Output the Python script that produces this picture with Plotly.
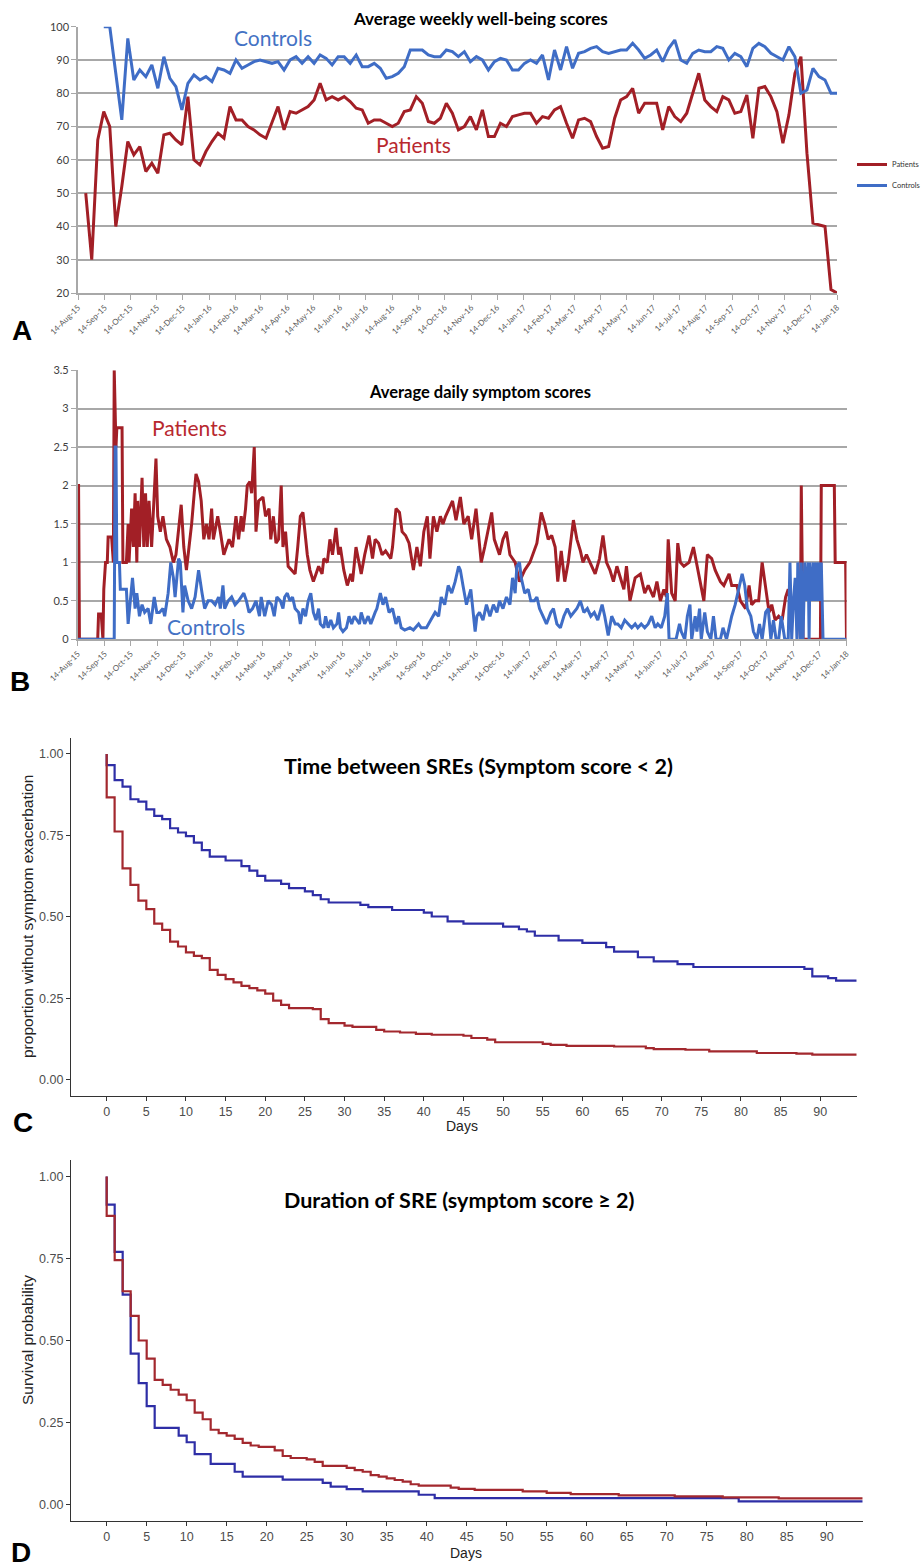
import plotly.graph_objects as go
import pandas as pd

W, H = 922, 1567
def fx(p): return p / W
def fy(p): return 1 - p / H

# ---------------- DATA ----------------
# Panel A: weekly well-being scores (weekly points)
a_patients_start = "2015-08-23"
a_patients = [50, 30, 66, 74.5, 70, 40, 52, 65.5, 61.5, 64,
              56.5, 59, 56, 67.5, 68, 66, 64.5, 79, 60, 58.5,
              62.5, 65.5, 68, 66.5, 76, 72, 72, 70, 69, 67.5,
              66.5, 71, 76, 69, 74.5, 74, 75, 76, 78, 83,
              78, 79, 78, 79, 77.5, 75.5, 75, 71, 72, 72,
              71, 70, 71, 74.5, 75, 79, 77, 71.5, 71, 72.5,
              77, 74, 69, 70, 73, 69, 75, 67, 67, 71,
              70, 73, 73.5, 74, 74, 71, 73, 72.5, 75, 76,
              71, 66.5, 72, 72.5, 71.5, 67, 63.5, 64, 72.5, 78,
              79, 81.5, 74, 77, 77, 77, 69, 76, 73, 71.5,
              74, 80, 86, 78, 76, 74.5, 79, 78, 74, 74.5,
              79.5, 66.5, 81.5, 82, 79, 74.5, 65, 73.5, 86, 91,
              62, 41, 40.5, 40, 21, 20]
a_controls_start = "2015-09-13"
a_controls = [100, 100, 86, 72, 96.5, 84, 87, 85, 88.5, 81.5,
              91, 84.5, 82, 75, 83, 85.5, 84, 85, 83.5, 87.5,
              87, 86, 90, 87.5, 88.5, 89.5, 90, 89.5, 89, 89.5,
              87, 90, 91, 89, 91, 89, 91.5, 90.5, 88.5, 91,
              91, 89, 91.5, 88, 88, 89, 87.5, 84.5, 85, 86,
              88, 93, 93, 93, 91.5, 91, 91, 93, 92.5, 91,
              92.5, 89.5, 91, 90, 87, 89.5, 90.5, 90, 87, 87,
              89, 90, 89, 91.5, 84, 93, 87, 94, 87.5, 92,
              92.5, 93.5, 94, 92.5, 92, 92.5, 93, 93, 95, 93,
              90.5, 91.5, 93, 89.5, 93.5, 96, 90, 89, 92, 93,
              92.5, 92.5, 94, 93.5, 90, 92, 91, 88, 93.5, 95,
              94, 92, 91, 90, 94, 91, 80, 81, 87.5, 85,
              84, 80, 80]

# Panel B: daily symptom scores, (day since 14-Aug-15, score)
b_origin = "2015-08-14"
b_patients = [(0,2.0),(1,2.0),(2,0),(23,0),(24,0.33),(27,0.33),(29,0),(30,0.65),(32,1.0),(34,1.0),
  (35,1.33),(39,1.33),(41,1.0),(42,3.5),(44,2.5),(45,2.75),(51,2.75),(52,1.0),(56,1.0),(58,1.5),
  (59,1.0),(62,1.7),(64,1.2),(66,1.9),(68,1.0),(69,1.8),(71,1.2),(74,2.1),(76,1.2),(78,1.9),
  (80,1.2),(82,1.8),(85,1.2),(87,1.7),(90,2.35),(92,1.6),(95,1.4),(98,1.6),(102,1.3),(106,1.2),
  (110,1.0),(113,1.1),(117,1.6),(119,1.75),(122,1.2),(125,0.9),(128,1.2),(131,1.5),(134,1.9),(136,2.15),
  (139,2.05),(142,1.8),(145,1.3),(148,1.5),(151,1.3),(154,1.7),(156,1.3),(159,1.5),(161,1.6),(164,1.4),
  (168,1.1),(171,1.2),(174,1.3),(178,1.2),(182,1.6),(185,1.3),(188,1.6),(190,1.4),(193,1.7),(195,2.0),
  (198,2.05),(200,1.9),(203,2.5),(205,1.4),(208,1.8),(213,1.85),(216,1.6),(220,1.7),(222,1.3),(225,1.6),
  (228,1.25),(231,1.3),(234,2.0),(236,1.2),(239,1.4),(242,0.95),(246,0.9),(250,0.85),(253,1.2),(256,1.6),
  (259,1.65),(261,1.4),(264,1.1),(267,0.9),(271,0.75),(274,0.85),(277,0.95),(281,0.85),(283,1.05),(287,1.0),
  (290,1.3),(293,1.1),(297,1.45),(300,1.1),(302,1.2),(306,0.9),(310,0.7),(314,0.85),(316,0.75),(320,1.2),
  (323,1.0),(326,0.85),(330,1.1),(335,1.35),(339,1.05),(342,1.3),(346,1.25),(350,1.1),(354,1.15),(360,1.05),
  (362,1.2),(366,1.7),(370,1.65),(373,1.4),(377,1.35),(381,1.25),(386,0.9),(390,1.2),(394,0.95),(398,1.4),
  (402,1.6),(405,1.05),(409,1.6),(413,1.4),(417,1.6),(420,1.5),(423,1.6),(431,1.8),(435,1.55),(440,1.85),
  (444,1.5),(449,1.6),(453,1.3),(458,1.7),(464,1.0),(468,1.2),(476,1.65),(479,1.3),(485,1.1),(489,1.3),
  (493,1.4),(497,1.1),(503,1.0),(508,0.75),(514,0.9),(520,1.0),(528,1.25),(533,1.65),(537,1.5),(541,1.3),
  (545,1.35),(549,1.2),(552,0.75),(556,1.15),(560,0.75),(564,1.0),(570,1.55),(574,1.3),(578,1.15),(581,1.0),
  (585,1.1),(591,0.95),(595,0.85),(600,1.05),(604,1.35),(608,1.0),(612,0.9),(616,0.75),(620,0.95),(624,0.8),
  (628,0.65),(631,0.95),(635,0.5),(641,0.8),(647,0.85),(652,0.6),(656,0.7),(662,0.55),(666,0.75),(670,0.5),
  (674,0.65),(677,0.55),(679,1.3),(683,0.6),(687,0.5),(690,1.25),(693,1.0),(697,0.95),(703,1.0),(708,1.2),
  (712,0.95),(716,0.7),(720,0.5),(724,1.1),(729,1.05),(733,0.9),(739,0.75),(743,0.7),(749,0.85),(752,0.7),
  (758,0.7),(762,0.5),(768,0.4),(772,0.7),(775,0.45),(779,0.5),(783,0.5),(787,1.0),(791,0.7),(795,0.35),
  (798,0.45),(802,0.25),(806,0.3),(810,0.25),(814,0.55),(817,0.65),(821,0.4),(825,0.6),(829,0.45),(831,0),
  (832,2.0),(834,0),(854,0),(855,2.0),(870,2.0),(871,1.0),(883,1.0),(884,0)]
b_controls = [(0,0),(42,0),(43,2.5),(44,2.5),(45,1.0),(48,1.0),(49,0.65),(56,0.65),(58,0.2),(63,0.8),
  (66,0.4),(68,0.6),(71,0.3),(74,0.45),(77,0.35),(81,0.4),(84,0.2),(88,0.55),(91,0.35),(94,0.35),
  (98,0.4),(100,0.3),(104,0.6),(107,1.0),(110,0.8),(112,0.55),(116,1.05),(118,1.0),(121,0.35),(123,0.7),
  (127,0.5),(131,0.4),(135,0.55),(139,0.9),(143,0.6),(146,0.4),(150,0.5),(154,0.5),(158,0.45),(162,0.55),
  (164,0.4),(167,0.7),(169,0.4),(173,0.5),(177,0.55),(181,0.45),(185,0.5),(188,0.55),(191,0.6),(194,0.5),
  (197,0.35),(201,0.4),(205,0.5),(209,0.3),(211,0.55),(215,0.3),(219,0.5),(223,0.45),(226,0.3),(229,0.55),
  (233,0.5),(236,0.4),(238,0.55),(241,0.6),(244,0.5),(247,0.55),(250,0.4),(254,0.35),(256,0.2),(259,0.4),
  (262,0.3),(265,0.5),(268,0.6),(271,0.35),(274,0.25),(277,0.4),(279,0.2),(283,0.15),(285,0.3),(288,0.15),
  (291,0.25),(294,0.15),(298,0.2),(300,0.35),(302,0.15),(305,0.1),(309,0.15),(312,0.3),(315,0.2),(318,0.3),
  (321,0.25),(324,0.2),(326,0.35),(330,0.2),(334,0.3),(337,0.2),(342,0.35),(344,0.4),(348,0.6),(351,0.45),
  (354,0.55),(358,0.35),(362,0.4),(366,0.2),(369,0.3),(372,0.15),(376,0.12),(382,0.15),(386,0.12),(392,0.2),
  (395,0.15),(401,0.15),(406,0.25),(411,0.35),(415,0.3),(418,0.55),(422,0.45),(426,0.7),(430,0.6),(434,0.75),
  (438,0.95),(440,0.9),(443,0.7),(447,0.45),(452,0.65),(455,0.35),(457,0.1),(459,0.3),(462,0.35),(466,0.25),
  (470,0.45),(474,0.3),(478,0.45),(482,0.35),(485,0.5),(489,0.4),(493,0.55),(497,0.45),(500,0.8),(503,0.6),
  (505,0.95),(508,1.0),(510,0.8),(514,0.6),(518,0.65),(521,0.5),(525,0.5),(528,0.55),(531,0.4),(535,0.3),
  (539,0.2),(544,0.35),(547,0.4),(551,0.2),(555,0.15),(559,0.3),(563,0.4),(567,0.3),(571,0.35),(574,0.4),
  (578,0.5),(582,0.35),(586,0.4),(590,0.3),(594,0.35),(598,0.25),(603,0.45),(606,0.3),(610,0.05),(614,0.3),
  (618,0.2),(621,0.2),(625,0.15),(629,0.25),(633,0.2),(637,0.15),(641,0.2),(644,0.15),(648,0.2),(652,0.15),
  (656,0.2),(660,0.3),(664,0.15),(667,0.2),(671,0.15),(675,0.3),(678,0.6),(680,0),(688,0),(692,0.2),
  (694,0.1),(698,0),(701,0.3),(704,0.45),(706,0),(710,0.3),(712,0.1),(715,0.4),(717,0),(721,0.35),
  (724,0.1),(728,0),(731,0.3),(734,0),(739,0),(742,0.15),(746,0),(752,0.3),(756,0.45),(761,0.7),
  (764,0.85),(767,0.7),(770,0.4),(774,0.3),(777,0.1),(781,0),(784,0.2),(787,0),(791,0.35),(794,0.4),
  (797,0),(800,0.25),(803,0),(806,0),(809,0.3),(813,0),(817,0),(819,1.0),(821,0),(823,0.5),
  (825,0.8),(827,0),(828,1.0),(831,0),(832,1.0),(834,0),(836,1.0),(838,0.5),(840,1.0),(841,0),
  (842,1.0),(844,0.5),(846,1.0),(847,0.5),(849,1.0),(850,0.5),(852,1.0),(853,0.5),(855,1.0),(857,0),
  (884,0)]

# Panel C: Kaplan-Meier, time between SREs (event day, survival after event)
c_ctrl_t = [0,1,2,3,4,5,6,7,8,9,10,11,12,13,15,17,18,19,20,22,23,25,26,27,28,32,33,36,40,41,43,45,50,52,53,54,57,60,63,64,67,69,72,74,88,89,91,92]
c_ctrl_s = [0.966,0.92,0.90,0.861,0.854,0.83,0.81,0.80,0.772,0.759,0.748,0.728,0.705,0.685,0.673,0.656,0.642,0.626,0.611,0.601,0.588,0.578,0.567,0.554,0.544,0.537,0.53,0.521,0.513,0.501,0.486,0.479,0.47,0.462,0.455,0.442,0.428,0.42,0.407,0.393,0.376,0.363,0.355,0.346,0.34,0.317,0.312,0.304]
c_pat_t = [0,1,2,3,4,5,6,7,8,9,10,11,12,13,14,15,16,17,18,19,20,21,22,23,26,27,28,30,31,34,35,37,39,41,45,46,48,49,55,56,58,64,68,69,73,76,82,87,89]
c_pat_s = [0.867,0.762,0.649,0.598,0.55,0.524,0.479,0.46,0.424,0.409,0.391,0.38,0.373,0.337,0.322,0.309,0.299,0.288,0.281,0.274,0.264,0.243,0.23,0.22,0.217,0.186,0.174,0.166,0.162,0.153,0.148,0.145,0.141,0.138,0.135,0.128,0.123,0.115,0.11,0.107,0.104,0.102,0.097,0.094,0.092,0.087,0.082,0.08,0.077]
c_end = 94.6

# Panel D: Kaplan-Meier, duration of SRE
d_ctrl_t = [0,1,2,3,4,5,6,9,10,11,13,16,17,22,27,28,30,32,39,41,79]
d_ctrl_s = [0.914,0.77,0.64,0.46,0.37,0.30,0.234,0.21,0.19,0.154,0.124,0.1,0.085,0.076,0.066,0.055,0.047,0.04,0.03,0.02,0.01]
d_pat_t = [0,1,2,3,4,5,6,7,8,9,10,11,12,13,14,15,16,17,18,19,21,22,23,25,26,27,30,31,32,33,34,35,36,37,38,39,43,44,46,52,55,58,64,71,77,84]
d_pat_s = [0.88,0.745,0.65,0.575,0.5,0.445,0.38,0.365,0.35,0.335,0.318,0.28,0.26,0.228,0.218,0.21,0.2,0.188,0.18,0.176,0.165,0.148,0.142,0.138,0.13,0.118,0.112,0.105,0.1,0.09,0.085,0.08,0.075,0.07,0.062,0.058,0.052,0.048,0.045,0.04,0.036,0.032,0.028,0.025,0.022,0.019]
d_end = 94.5

month_ticks = [pd.Timestamp("2015-08-14") + pd.DateOffset(months=i) for i in range(30)]
month_labels = [d.strftime("%d-%b-%y") for d in month_ticks]
km_ticks = list(range(0, 95, 5))
km_yticks = [0, 0.25, 0.5, 0.75, 1.0]

# ---------------- STYLE ----------------
RED_A, BLUE_A = "#A21F26", "#3F6DC6"
RED_KM, BLUE_KM = "#A3282E", "#2E2EA6"
GRID = "#a8a8a8"

fig = go.Figure()

# Panel A
a_pat_x = pd.date_range(a_patients_start, periods=len(a_patients), freq="7D")
a_ctl_x = pd.date_range(a_controls_start, periods=len(a_controls), freq="7D")
fig.add_trace(go.Scatter(x=a_pat_x, y=a_patients, mode="lines", name="Patients",
                         line=dict(color=RED_A, width=3), xaxis="x", yaxis="y", legend="legend"))
fig.add_trace(go.Scatter(x=a_ctl_x, y=a_controls, mode="lines", name="Controls",
                         line=dict(color=BLUE_A, width=3), xaxis="x", yaxis="y", legend="legend2"))

# Panel B
org = pd.Timestamp(b_origin)
bp_x = [org + pd.Timedelta(days=d) for d, v in b_patients]
bp_y = [v for d, v in b_patients]
bc_x = [org + pd.Timedelta(days=d) for d, v in b_controls]
bc_y = [v for d, v in b_controls]
fig.add_trace(go.Scatter(x=bp_x, y=bp_y, mode="lines", showlegend=False,
                         line=dict(color=RED_A, width=3), xaxis="x2", yaxis="y2"))
fig.add_trace(go.Scatter(x=bc_x, y=bc_y, mode="lines", showlegend=False,
                         line=dict(color=BLUE_A, width=3), xaxis="x2", yaxis="y2"))

def km(t, s, end):
    return [0] + list(t) + [end], [1.0] + list(s) + [s[-1]]

for (t, s, end, col, xa, ya) in [
        (c_ctrl_t, c_ctrl_s, c_end, BLUE_KM, "x3", "y3"),
        (c_pat_t, c_pat_s, c_end, RED_KM, "x3", "y3"),
        (d_ctrl_t, d_ctrl_s, d_end, BLUE_KM, "x4", "y4"),
        (d_pat_t, d_pat_s, d_end, RED_KM, "x4", "y4")]:
    xx, yy = km(t, s, end)
    fig.add_trace(go.Scatter(x=xx, y=yy, mode="lines", line_shape="hv", showlegend=False,
                             line=dict(color=col, width=2.2), xaxis=xa, yaxis=ya))

ts_x = dict(type="date", tickmode="array", tickvals=month_ticks, ticktext=month_labels,
            tickangle=-45, tickfont=dict(family="Lato", size=8, color="#5a5a5a"),
            ticks="outside", ticklen=5, tickcolor=GRID, showline=True, linecolor=GRID,
            linewidth=1.5, showgrid=False, zeroline=False, automargin=False,
            range=["2015-08-14", "2018-01-14"])
ts_y = dict(showgrid=True, gridcolor=GRID, gridwidth=1.6, showline=True, linecolor=GRID,
            linewidth=1.5, ticks="outside", ticklen=5, tickcolor=GRID, zeroline=False, automargin=False,
            tickfont=dict(family="Lato", size=11, color="#404040"))
km_x = dict(tickmode="array", tickvals=km_ticks, showline=True, linecolor="#333333", linewidth=1.3,
            ticks="outside", ticklen=4, tickcolor="#333333", tickwidth=1.2, showgrid=False, zeroline=False,
            automargin=False, tickfont=dict(family="Liberation Sans", size=12.5, color="#4d4d4d"))
km_y = dict(tickmode="array", tickvals=km_yticks, tickformat=".2f", range=[-0.05, 1.05],
            showline=True, linecolor="#333333", linewidth=1.3, ticks="outside", ticklen=4,
            tickcolor="#333333", tickwidth=1.2, showgrid=False, zeroline=False, automargin=False,
            tickfont=dict(family="Liberation Sans", size=12.5, color="#4d4d4d"))

fig.update_layout(
    width=W, height=H, autosize=False, margin=dict(l=0, r=0, t=0, b=0, autoexpand=False),
    paper_bgcolor="white", plot_bgcolor="white",
    xaxis=dict(ts_x, domain=[fx(78), fx(837)], anchor="y"),
    yaxis=dict(ts_y, domain=[fy(293), fy(26.7)], range=[20, 100], dtick=10, anchor="x"),
    xaxis2=dict(ts_x, domain=[fx(77.7), fx(846.5)], anchor="y2"),
    yaxis2=dict(ts_y, domain=[fy(639.3), fy(370.2)], range=[0, 3.5], dtick=0.5, anchor="x2"),
    xaxis3=dict(km_x, domain=[fx(71), fx(856.7)], range=[-4.5, 94.6], anchor="y3"),
    yaxis3=dict(km_y, domain=[fy(1096), fy(737.7)], anchor="x3"),
    xaxis4=dict(km_x, domain=[fx(71), fx(862.7)], range=[-4.46, 94.5], anchor="y4"),
    yaxis4=dict(km_y, domain=[fy(1521), fy(1160)], anchor="x4"),
    legend=dict(x=fx(852), y=fy(150), xanchor="left", yanchor="top", bgcolor="rgba(0,0,0,0)",
                xref="container", yref="container",
                font=dict(family="Lato", size=7.5, color="#333333"), itemwidth=30),
    legend2=dict(x=fx(852), y=fy(171), xanchor="left", yanchor="top", bgcolor="rgba(0,0,0,0)",
                 xref="container", yref="container",
                 font=dict(family="Lato", size=7.5, color="#333333"), itemwidth=30),
)

ann = []
def txt(x, y, s, size, color="black", family="Lato", bold=False, angle=0, xref="paper", yref="paper"):
    ann.append(dict(x=x, y=y, xref=xref, yref=yref, text=("<b>%s</b>" % s) if bold else s,
                    showarrow=False, textangle=angle, xanchor="center", yanchor="middle",
                    font=dict(family=family, size=size, color=color)))

# titles
txt(fx(481), fy(18), "Average weekly well-being scores", 17, bold=True)
txt(fx(480), fy(392), "Average daily symptom scores", 16.5, bold=True)
txt(fx(478), fy(766), "Time between SREs (Symptom score &lt; 2)", 21.5, bold=True)
txt(fx(459), fy(1200), "Duration of SRE (symptom score ≥ 2)", 21.5, bold=True)
# series labels
txt("2016-03-28", 96.9, "Controls", 21, color="#4472C4", xref="x", yref="y")
txt("2016-09-08", 64.5, "Patients", 21, color="#B8282E", xref="x", yref="y")
txt("2015-12-21", 2.75, "Patients", 21, color="#B8282E", xref="x2", yref="y2")
txt("2016-01-08", 0.17, "Controls", 21, color="#4472C4", xref="x2", yref="y2")
# axis titles
txt(fx(28), fy(917), "proportion without symptom exacerbation", 15.5, color="#222222",
    family="Liberation Sans", angle=-90)
txt(fx(27), fy(1340), "Survival probability", 15.5, color="#222222", family="Liberation Sans", angle=-90)
txt(fx(462), fy(1126), "Days", 14, color="#222222", family="Liberation Sans")
txt(fx(466), fy(1553), "Days", 14, color="#222222", family="Liberation Sans")
# panel letters
for lx, ly, lab in [(22, 331, "A"), (20, 681, "B"), (23, 1122, "C"), (21, 1552, "D")]:
    txt(fx(lx), fy(ly), lab, 28, family="Liberation Sans", bold=True)

fig.update_layout(annotations=ann)
fig.write_html("out.html", config={"displayModeBar": False},
               post_script="document.body.style.margin='0';document.body.style.padding='0';")
